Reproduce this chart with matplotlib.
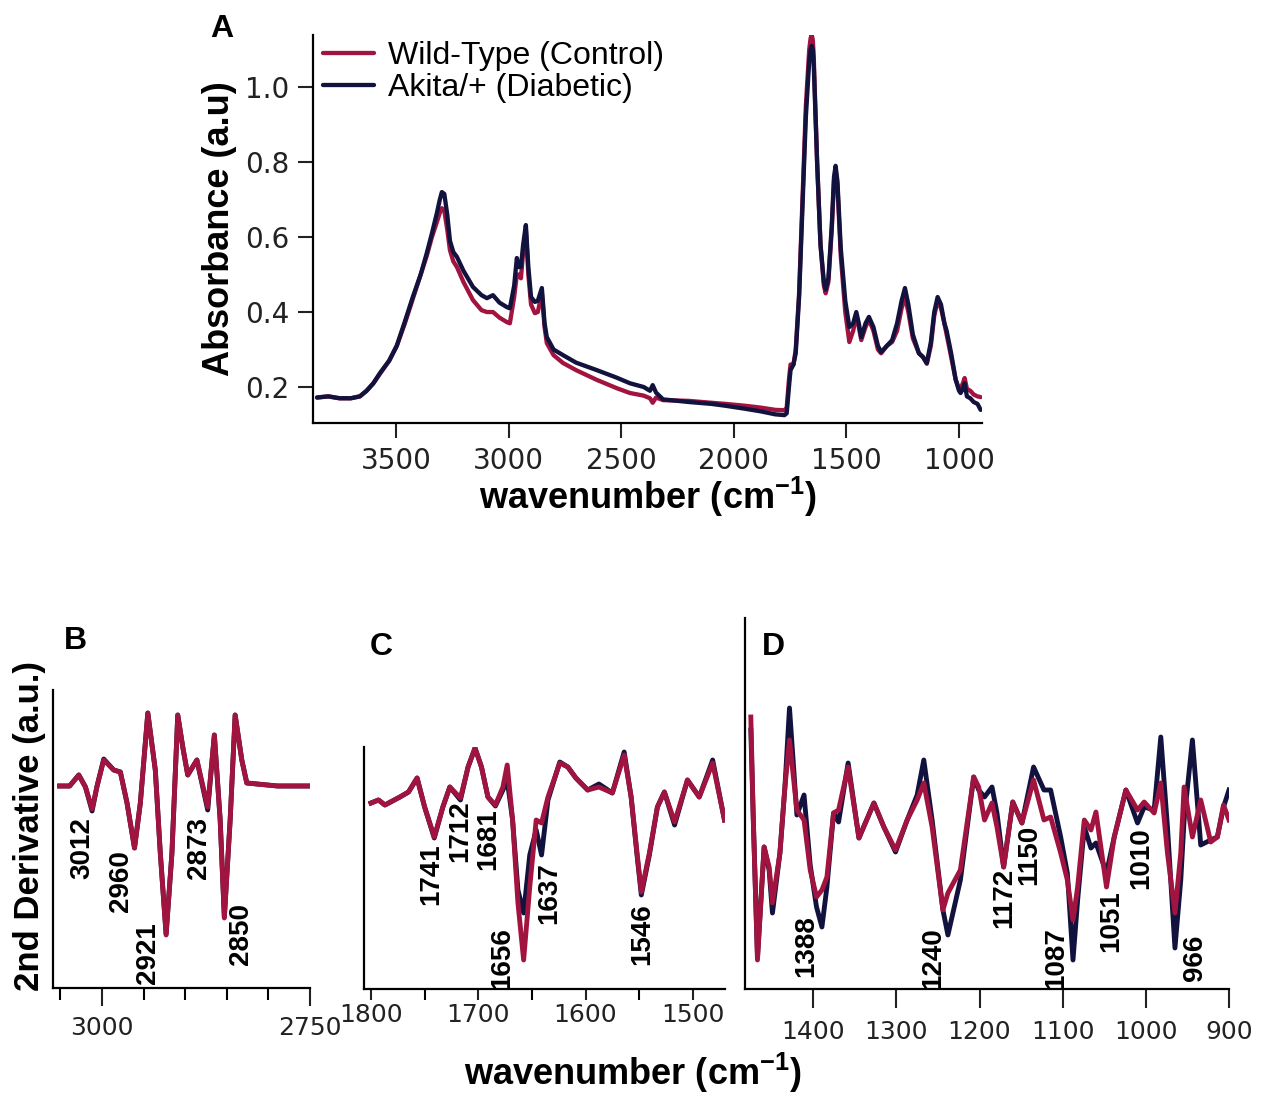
"""
FTIR spectra: wild-type vs Akita/+ (absorbance + 2nd derivative)
"""

import numpy as np
import matplotlib
matplotlib.use('Agg')
import matplotlib.pyplot as plt
from matplotlib.ticker import FixedLocator, FormatStrFormatter

plt.rcParams['font.family'] = ['Liberation Sans', 'DejaVu Sans']
plt.rcParams['mathtext.fontset'] = 'custom'
plt.rcParams['mathtext.rm'] = 'Liberation Sans'
plt.rcParams['mathtext.bf'] = 'Liberation Sans:bold'

RED = '#A0143F'
NAVY = '#12123F'

# ---- panel A: absorbance spectra ----
wn_a = [3850, 3800, 3750, 3700, 3660, 3630, 3600, 3571, 3530, 3496, 3460, 3425,
        3390, 3363, 3340, 3318, 3305, 3296, 3285, 3272, 3260, 3245, 3229, 3200,
        3158, 3120, 3096, 3069, 3040, 3007, 2994, 2975, 2963, 2955, 2945, 2935,
        2923, 2912, 2900, 2883, 2870, 2852, 2840, 2830, 2800, 2758, 2700, 2608,
        2520, 2461, 2400, 2372, 2360, 2345, 2314, 2200, 2100, 2037, 1950, 1880,
        1815, 1775, 1765, 1755, 1748, 1735, 1725, 1710, 1695, 1680, 1665, 1659, 1654,
        1649, 1645, 1630, 1615, 1600, 1592, 1580, 1565, 1555, 1548, 1540, 1525, 1505,
        1487, 1470, 1456, 1445, 1434, 1415, 1400, 1380, 1360, 1346, 1320, 1297,
        1275, 1255, 1240, 1225, 1205, 1178, 1160, 1143, 1125, 1110, 1095, 1080,
        1065, 1055, 1035, 1015, 1000, 993, 983, 975, 965, 950, 935, 918, 904]
abs_wt = [0.172, 0.175, 0.170, 0.170, 0.175, 0.19, 0.21, 0.235, 0.27, 0.31, 0.37, 0.435,
          0.50, 0.55, 0.60, 0.64, 0.665, 0.677, 0.67, 0.62, 0.565, 0.535, 0.52, 0.48,
          0.432, 0.405, 0.40, 0.40, 0.385, 0.373, 0.37, 0.44, 0.50, 0.50, 0.49, 0.56,
          0.62, 0.50, 0.42, 0.397, 0.40, 0.45, 0.36, 0.317, 0.285, 0.264, 0.245, 0.219,
          0.197, 0.184, 0.177, 0.17, 0.158, 0.172, 0.165, 0.163, 0.158, 0.155, 0.150, 0.145,
          0.139, 0.138, 0.145, 0.22, 0.26, 0.26, 0.30, 0.45, 0.70, 0.95, 1.10, 1.13, 1.14,
          1.125, 1.08, 0.80, 0.58, 0.47, 0.45, 0.48, 0.62, 0.75, 0.78, 0.74, 0.55, 0.40,
          0.32, 0.35, 0.39, 0.36, 0.325, 0.36, 0.38, 0.35, 0.30, 0.29, 0.31, 0.32,
          0.35, 0.41, 0.44, 0.40, 0.33, 0.29, 0.28, 0.262, 0.31, 0.39, 0.43, 0.41,
          0.37, 0.34, 0.28, 0.22, 0.195, 0.195, 0.21, 0.224, 0.195, 0.19, 0.18, 0.175, 0.173]
abs_ak = [0.172, 0.175, 0.170, 0.170, 0.175, 0.19, 0.21, 0.237, 0.27, 0.31, 0.375, 0.44,
          0.50, 0.557, 0.61, 0.664, 0.70, 0.72, 0.715, 0.66, 0.59, 0.56, 0.547, 0.51,
          0.467, 0.445, 0.437, 0.445, 0.425, 0.413, 0.41, 0.47, 0.544, 0.52, 0.52, 0.58,
          0.632, 0.52, 0.44, 0.427, 0.43, 0.464, 0.37, 0.333, 0.30, 0.285, 0.265, 0.245,
          0.225, 0.21, 0.20, 0.19, 0.205, 0.185, 0.167, 0.16, 0.155, 0.150, 0.142, 0.135,
          0.127, 0.125, 0.13, 0.20, 0.245, 0.26, 0.29, 0.44, 0.68, 0.92, 1.07, 1.10, 1.11,
          1.10, 1.06, 0.80, 0.58, 0.48, 0.46, 0.49, 0.63, 0.76, 0.79, 0.75, 0.57, 0.43,
          0.36, 0.37, 0.40, 0.37, 0.333, 0.37, 0.387, 0.36, 0.31, 0.293, 0.31, 0.325,
          0.37, 0.43, 0.464, 0.42, 0.34, 0.29, 0.28, 0.264, 0.32, 0.40, 0.44, 0.42,
          0.37, 0.35, 0.29, 0.22, 0.19, 0.184, 0.195, 0.21, 0.175, 0.17, 0.16, 0.155, 0.139]

# ---- panel B: 2nd derivative, 3050-2750 ----
wn_b = [3051, 3039, 3028, 3020, 3012, 3006, 2998, 2986, 2978, 2970, 2961, 2954,
        2945, 2936, 2930, 2923, 2916, 2909, 2903, 2897, 2886, 2873, 2865, 2858,
        2853, 2846, 2840, 2832, 2826, 2789, 2750]
d2_b_wt = [0.0, 0.0, 0.11, -0.01, -0.23, 0.0, 0.26, 0.16, 0.14, -0.17, -0.62, -0.17,
           0.73, 0.16, -0.67, -1.49, -0.67, 0.71, 0.39, 0.11, 0.26, -0.21, 0.51, -0.34,
           -1.32, -0.34, 0.71, 0.26, 0.03, 0.0, 0.0]
d2_b_ak = [0.0, 0.0, 0.11, -0.01, -0.25, 0.0, 0.27, 0.16, 0.14, -0.17, -0.62, -0.17,
           0.73, 0.16, -0.67, -1.48, -0.67, 0.71, 0.39, 0.11, 0.26, -0.24, 0.51, -0.34,
           -1.31, -0.34, 0.71, 0.26, 0.03, 0.0, 0.0]
peaks_b = ['3012', '2960', '2921', '2873', '2850']
lab_b_x = [3024, 2977, 2945, 2883, 2833]
lab_b_y = [-0.31, -0.64, -1.36, -0.31, -1.17]

# ---- panel C: 2nd derivative, 1800-1470 ----
wn_c = [1800, 1793, 1787, 1773, 1765, 1757, 1750, 1741, 1733, 1726.5, 1716.6, 1709.5,
        1703, 1697, 1691, 1684, 1677, 1673, 1668, 1663, 1657.7, 1652, 1646, 1641,
        1635, 1624, 1616.5, 1609, 1598, 1587.5, 1575, 1564, 1557.5, 1552, 1548, 1540.5,
        1533, 1526.5, 1517, 1505, 1494, 1481.5, 1470.5]
d2_c_wt = [-0.03, 0.0, -0.05, 0.03, 0.08, 0.22, -0.07, -0.37, -0.07, 0.13, 0.02, 0.33,
           0.52, 0.33, 0.03, -0.05, 0.13, 0.35, -0.2, -1.03, -1.60, -0.87, -0.2, -0.23,
           0.03, 0.37, 0.33, 0.22, 0.10, 0.13, 0.07, 0.45, 0.03, -0.53, -0.92, -0.53,
           -0.07, 0.08, -0.22, 0.2, 0.03, 0.37, -0.2]
d2_c_ak = [-0.03, 0.0, -0.05, 0.03, 0.08, 0.22, -0.07, -0.38, -0.07, 0.13, 0.0, 0.33,
           0.52, 0.33, 0.03, -0.06, 0.10, 0.20, -0.2, -0.90, -1.13, -0.55, -0.3, -0.55,
           0.0, 0.38, 0.33, 0.22, 0.10, 0.16, 0.07, 0.48, 0.03, -0.55, -0.95, -0.55,
           -0.07, 0.08, -0.25, 0.2, 0.03, 0.40, -0.2]
peaks_c = ['1741', '1712', '1681', '1656', '1637', '1546']
lab_c_x = [1744, 1717, 1691, 1678, 1633.5, 1547.5]
lab_c_y = [-0.43, 0.0, -0.08, -1.27, -0.62, -1.03]

# ---- panel D: 2nd derivative, 1480-900 ----
wn_d = [1475, 1472, 1467, 1459, 1453, 1449, 1440, 1434, 1428.5, 1419.6, 1411, 1403.6,
        1396, 1389.5, 1383.5, 1375.5, 1369.5, 1358, 1345, 1327, 1315, 1301, 1287, 1275,
        1267, 1257, 1244, 1238, 1223, 1207, 1201, 1194, 1185, 1179, 1171, 1160,
        1149, 1135, 1122.5, 1114.5, 1102.4, 1094.4, 1087.6, 1082, 1074, 1066, 1060, 1047.3,
        1038, 1024, 1010, 1002, 990, 982, 974, 965, 958, 954, 944, 934,
        922, 914, 906.6, 900]
d2_d_wt = [1.03, 0.0, -1.40, -0.27, -0.47, -0.83, -0.33, 0.33, 0.80, 0.10, 0.0, -0.5,
           -0.77, -0.70, -0.57, 0.07, 0.10, 0.53, -0.18, 0.17, -0.07, -0.30, 0.0, 0.2,
           0.37, -0.07, -0.9, -0.73, -0.5, 0.43, 0.33, 0.0, 0.17, -0.07, -0.47, 0.18,
           -0.03, 0.4, 0.0, 0.03, -0.33, -0.6, -1.0, -0.67, 0.0, -0.1, 0.08, -0.67,
           -0.17, 0.3, 0.1, 0.18, 0.07, 0.37, -0.33, -0.93, -0.33, 0.33, -0.17, 0.2,
           -0.22, -0.17, 0.15, 0.0]
d2_d_ak = [0.9, 0.0, -1.37, -0.27, -0.5, -0.93, -0.33, 0.33, 1.12, 0.05, 0.25, -0.45,
           -0.87, -1.07, -0.67, 0.07, -0.02, 0.57, -0.18, 0.17, -0.07, -0.32, 0.0, 0.25,
           0.6, 0.0, -0.9, -1.15, -0.6, 0.43, 0.30, 0.23, 0.33, 0.07, -0.47, 0.18,
           -0.03, 0.53, 0.3, 0.3, -0.17, -0.53, -1.4, -0.8, -0.07, -0.28, -0.23, -0.53,
           -0.17, 0.3, -0.03, 0.13, 0.1, 0.83, -0.07, -1.28, -0.6, 0.0, 0.8, -0.25,
           -0.2, -0.17, 0.13, 0.3]
peaks_d = ['1388', '1240', '1172', '1150', '1087', '1051', '1010', '966']
lab_d_x = [1408.7, 1256, 1170, 1140, 1107.5, 1041, 1005, 941]
lab_d_y = [-0.95, -1.07, -0.48, -0.05, -1.07, -0.7, -0.07, -1.15]

W, H = 1275, 1100
fig = plt.figure(figsize=(W / 100, H / 100), dpi=100)


def px_axes(x0, y0, x1, y1):
    # axes from pixel box (top-left origin)
    return fig.add_axes([x0 / W, 1 - y1 / H, (x1 - x0) / W, (y1 - y0) / H])


def style(ax):
    for s in ['top', 'right']:
        ax.spines[s].set_visible(False)
    for s in ['left', 'bottom']:
        ax.spines[s].set_linewidth(1.6)
    ax.tick_params(direction='out', width=1.5, colors='#222222')


LW_A, LW_D = 3.1, 3.5

# panel A
axA = px_axes(313, 35, 982, 423)
style(axA)
axA.plot(wn_a, abs_wt, color=RED, lw=LW_A, label='Wild-Type (Control)',
         solid_joinstyle='round', solid_capstyle='round')
axA.plot(wn_a, abs_ak, color=NAVY, lw=LW_A, label='Akita/+ (Diabetic)',
         solid_joinstyle='round', solid_capstyle='round')
axA.set_xlim(3868, 898)
axA.set_ylim(0.104, 1.139)
axA.xaxis.set_major_locator(FixedLocator([3500, 3000, 2500, 2000, 1500, 1000]))
axA.yaxis.set_major_locator(FixedLocator([0.2, 0.4, 0.6, 0.8, 1.0]))
axA.yaxis.set_major_formatter(FormatStrFormatter('%.1f'))
axA.tick_params(length=11, labelsize=20, pad=6)
for t in axA.get_xticklabels() + axA.get_yticklabels():
    t.set_family('DejaVu Sans')
axA.set_xlabel(r'wavenumber (cm$^{\mathbf{-1}}$)', fontsize=26, fontweight='bold', labelpad=0)
axA.set_ylabel('Absorbance (a.u)', fontsize=26, fontweight='bold', labelpad=6)
leg = axA.legend(loc='upper left', bbox_to_anchor=(0.0, 1.008), frameon=False, fontsize=23,
                 handlelength=1.6, handletextpad=0.45, labelspacing=0.04, borderpad=0,
                 borderaxespad=0.3)
fig.text(222 / W, 1 - 29 / H, 'A', fontsize=23, fontweight='bold', ha='center', va='center')

# panel B
axB = px_axes(53, 690, 310, 988)
style(axB)
axB.plot(wn_b, d2_b_ak, color=NAVY, lw=LW_D, solid_joinstyle='round')
axB.plot(wn_b, d2_b_wt, color=RED, lw=LW_D, solid_joinstyle='round')
axB.set_xlim(3059, 2750)
axB.set_ylim(-2.02, 0.96)
axB.set_yticks([])
axB.xaxis.set_major_locator(FixedLocator([3000, 2750]))
axB.xaxis.set_minor_locator(FixedLocator([3050, 2950, 2900, 2850, 2800]))
axB.tick_params(axis='x', which='major', length=13, labelsize=18, pad=7)
axB.tick_params(axis='x', which='minor', length=8.5, width=1.5)
for lab, x, y in zip(peaks_b, lab_b_x, lab_b_y):
    axB.text(x, y, lab, rotation=90, ha='center', va='top', fontsize=20, fontweight='bold')

# panel C
axC = px_axes(364, 747, 725, 989)
style(axC)
axC.plot(wn_c, d2_c_ak, color=NAVY, lw=LW_D, solid_joinstyle='round')
axC.plot(wn_c, d2_c_wt, color=RED, lw=LW_D, solid_joinstyle='round')
axC.set_xlim(1806.5, 1470)
axC.set_ylim(-1.89, 0.53)
axC.set_yticks([])
axC.xaxis.set_major_locator(FixedLocator([1800, 1700, 1600, 1500]))
axC.xaxis.set_minor_locator(FixedLocator([1750, 1650, 1550]))
axC.tick_params(axis='x', which='major', length=8, labelsize=18, pad=2)
axC.tick_params(axis='x', which='minor', length=8, width=1.5)
for lab, x, y in zip(peaks_c, lab_c_x, lab_c_y):
    axC.text(x, y, lab, rotation=90, ha='center', va='top', fontsize=20, fontweight='bold')

# panel D
axD = px_axes(745, 618, 1229, 989)
style(axD)
axD.plot(wn_d, d2_d_ak, color=NAVY, lw=LW_D, solid_joinstyle='round')
axD.plot(wn_d, d2_d_wt, color=RED, lw=LW_D, solid_joinstyle='round')
axD.set_xlim(1482, 900)
axD.set_ylim(-1.69, 2.02)
axD.set_yticks([])
axD.xaxis.set_major_locator(FixedLocator([1400, 1300, 1200, 1100, 1000, 900]))
axD.tick_params(axis='x', which='major', length=13.5, labelsize=18, pad=9)
for lab, x, y in zip(peaks_d, lab_d_x, lab_d_y):
    axD.text(x, y, lab, rotation=90, ha='center', va='top', fontsize=20, fontweight='bold')

for ax in (axB, axC, axD):
    for t in ax.get_xticklabels():
        t.set_family('DejaVu Sans')

fig.text(75 / W, 1 - 641 / H, 'B', fontsize=23, fontweight='bold', ha='center', va='center')
fig.text(381 / W, 1 - 647 / H, 'C', fontsize=23, fontweight='bold', ha='center', va='center')
fig.text(773 / W, 1 - 647 / H, 'D', fontsize=23, fontweight='bold', ha='center', va='center')
fig.text(30 / W, 1 - 826 / H, '2nd Derivative (a.u.)', rotation=90, fontsize=25,
         fontweight='bold', ha='center', va='center')
fig.text(633 / W, 1 - 1073 / H, r'wavenumber (cm$^{\mathbf{-1}}$)', fontsize=26,
         fontweight='bold', ha='center', va='center')

plt.savefig('out.png', dpi=100)
